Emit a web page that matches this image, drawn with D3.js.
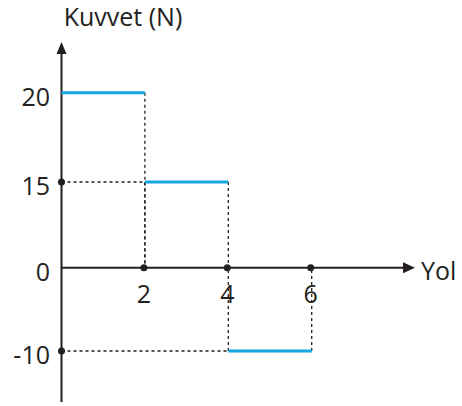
<!DOCTYPE html>
<html>
<head>
<meta charset="utf-8">
<script src="https://cdn.jsdelivr.net/npm/d3@7"></script>
<style>
  html, body { margin: 0; padding: 0; background: #fff; }
  svg { display: block; }
  text { font-family: "Comic Sans MS", "Open Sans", sans-serif; fill: #231f20; }
</style>
</head>
<body>
<script>
// Step-force graph: force (N) over distance (Yol)
const segStart = [0, 2, 4];
const segEnd = [2, 4, 6];
const forces = [20, 15, -10];
const xTicks = [2, 4, 6];
const yTicks = [20, 15, 0, -10];
const yAxisTitle = "Kuvvet (N)";
const xAxisTitle = "Yol";

const W = 462, H = 406;
const ink = "#231f20", blue = "#14a7e0";

const svg = d3.select("body").append("svg").attr("width", W).attr("height", H);

const x = d3.scaleLinear().domain([0, 6]).range([61.5, 311.7]);
// schematic (non-uniform) force axis
const y = d3.scaleLinear().domain([-10, 0, 15, 20]).range([351, 267.7, 182, 92.7]);

const x0 = x(0), y0 = y(0);

// dashed guides
const guides = [];
forces.forEach((f, i) => {
  [segStart[i], segEnd[i]].forEach(d => {
    if (d !== 0) guides.push({ x1: x(d), y1: y(f), x2: x(d), y2: y0 });
  });
  if (segStart[i] !== 0) guides.push({ x1: x0, y1: y(f), x2: x(segStart[i]), y2: y(f) });
});
svg.append("g").selectAll("line").data(guides).join("line")
  .attr("x1", d => d.x1).attr("y1", d => d.y1)
  .attr("x2", d => d.x2).attr("y2", d => d.y2)
  .attr("stroke", ink).attr("stroke-width", 1.3).attr("stroke-dasharray", "3,3");

// axes
svg.append("line").attr("x1", x0).attr("x2", x0).attr("y1", 50).attr("y2", 402)
  .attr("stroke", ink).attr("stroke-width", 2);
svg.append("path").attr("d", `M${x0},42 L${x0 - 5},54 L${x0 + 5},54 Z`).attr("fill", ink);
svg.append("line").attr("x1", x0).attr("x2", 406).attr("y1", y0).attr("y2", y0)
  .attr("stroke", ink).attr("stroke-width", 2);
svg.append("path").attr("d", `M415,${y0} L403,${y0 - 5.5} L403,${y0 + 5.5} Z`).attr("fill", ink);

// force segments
svg.append("g").selectAll("line").data(forces).join("line")
  .attr("x1", (f, i) => x(segStart[i])).attr("x2", (f, i) => x(segEnd[i]))
  .attr("y1", f => y(f)).attr("y2", f => y(f))
  .attr("stroke", blue).attr("stroke-width", 3);

// dots
const yDots = forces.filter((f, i) => segStart[i] !== 0);
svg.append("g").selectAll("circle").data(yDots).join("circle")
  .attr("cx", x0).attr("cy", d => y(d)).attr("r", 3.5).attr("fill", ink);
svg.append("g").selectAll("circle").data(xTicks).join("circle")
  .attr("cx", d => x(d) - 1).attr("cy", y0).attr("r", 3.5).attr("fill", ink);

// labels
svg.append("g").selectAll("text").data(yTicks).join("text")
  .attr("x", 50).attr("y", d => y(d) + 3)
  .attr("text-anchor", "end").attr("dominant-baseline", "central")
  .attr("font-size", 25).text(d => d < 0 ? "-" + Math.abs(d) : d);
svg.append("g").selectAll("text").data(xTicks).join("text")
  .attr("x", d => x(d) - 1).attr("y", 293)
  .attr("text-anchor", "middle").attr("dominant-baseline", "central")
  .attr("font-size", 25).text(d => d);
svg.append("text").attr("x", 123).attr("y", 16)
  .attr("text-anchor", "middle").attr("dominant-baseline", "central")
  .attr("font-size", 25).text(yAxisTitle);
svg.append("text").attr("x", 421).attr("y", 270)
  .attr("dominant-baseline", "central")
  .attr("font-size", 25).text(xAxisTitle);
</script>
</body>
</html>
